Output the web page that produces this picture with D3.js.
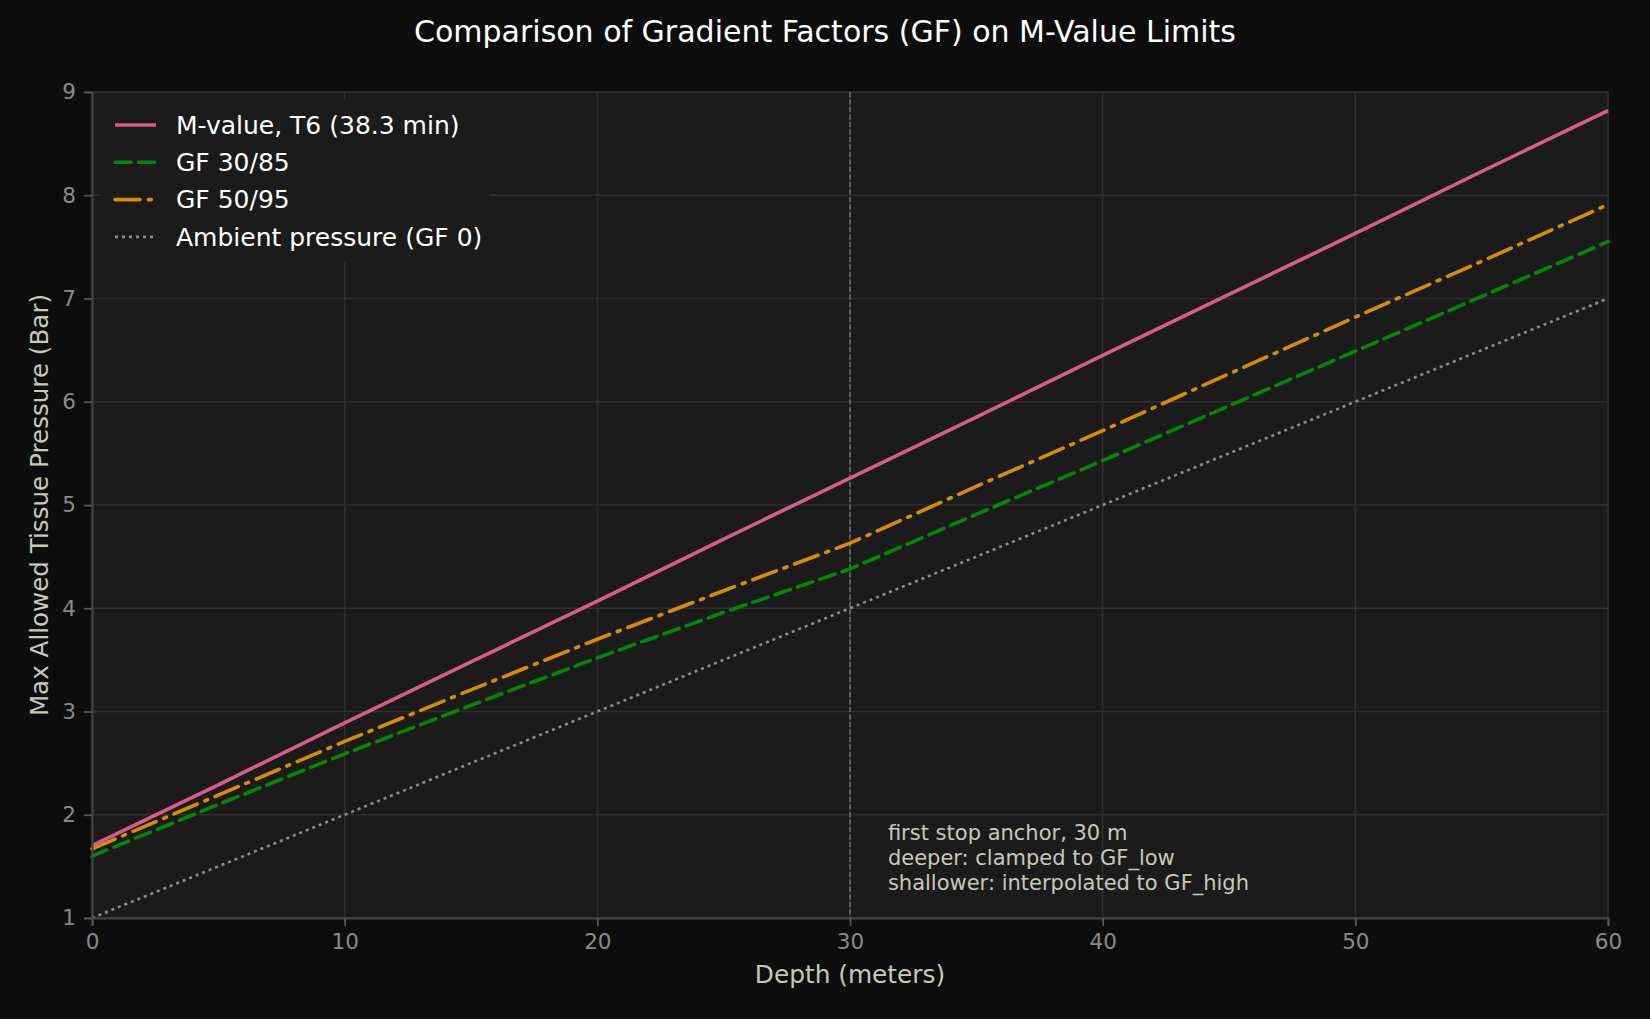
<!DOCTYPE html>
<html>
<head>
<meta charset="utf-8">
<script src="https://cdn.jsdelivr.net/npm/d3@7"></script>
<style>
  body { margin: 0; background: #0d0d0d; }
  svg { display: block; font-family: "DejaVu Sans", sans-serif; }
</style>
</head>
<body>
<div id="chart"></div>
<script>
const FRAME_WIDTH = 1650;
const FRAME_HEIGHT = 1019;
const MARGINS = {left: 92, right: 42, top: 92, bottom: 101};

// values
const depths   = [0, 5, 10, 15, 20, 25, 30, 35, 40, 45, 50, 55, 60];
const mValue   = [1.70, 2.29, 2.89, 3.48, 4.07, 4.67, 5.26, 5.85, 6.45, 7.04, 7.63, 8.23, 8.82];
const gf3085   = [1.60, 2.10, 2.59, 3.06, 3.52, 3.96, 4.38, 4.91, 5.43, 5.96, 6.49, 7.02, 7.55];
const gf5095   = [1.67, 2.19, 2.71, 3.21, 3.70, 4.17, 4.63, 5.18, 5.72, 6.27, 6.82, 7.36, 7.91];
const ambient  = [1.0, 1.5, 2.0, 2.5, 3.0, 3.5, 4.0, 4.5, 5.0, 5.5, 6.0, 6.5, 7.0];

const xTicks = [0, 10, 20, 30, 40, 50, 60];
const yTicks = [1, 2, 3, 4, 5, 6, 7, 8, 9];
const anchorDepth = 30;
const noteLines = ["first stop anchor, 30 m", "deeper: clamped to GF_low", "shallower: interpolated to GF_high"];

const series = [
  {name: "M-value, T6 (38.3 min)", values: mValue, color: "#d95a8c", width: 3.6, dash: null, cap: "butt"},
  {name: "GF 30/85", values: gf3085, color: "#008a00", width: 3.6, dash: "16 7.6", cap: "round"},
  {name: "GF 50/95", values: gf5095, color: "#d98c00", width: 3.6, dash: "25 8.3 3 8.3", cap: "round"},
  {name: "Ambient pressure (GF 0)", values: ambient, color: "#8c8c8c", width: 2.6, dash: "3 4", cap: "butt"}
];

const VIS_WIDTH = FRAME_WIDTH - MARGINS.left - MARGINS.right;
const VIS_HEIGHT = FRAME_HEIGHT - MARGINS.top - MARGINS.bottom;

const svg = d3.select("#chart")
  .append("svg")
  .attr("width", FRAME_WIDTH)
  .attr("height", FRAME_HEIGHT);

svg.append("rect")
  .attr("width", FRAME_WIDTH)
  .attr("height", FRAME_HEIGHT)
  .attr("fill", "#0d0d0d");

const X_SCALE = d3.scaleLinear().domain([0, 60]).range([MARGINS.left, MARGINS.left + VIS_WIDTH]);
const Y_SCALE = d3.scaleLinear().domain([1, 9]).range([MARGINS.top + VIS_HEIGHT, MARGINS.top]);

// axes background
svg.append("rect")
  .attr("x", MARGINS.left)
  .attr("y", MARGINS.top)
  .attr("width", VIS_WIDTH)
  .attr("height", VIS_HEIGHT)
  .attr("fill", "#1b1b1b");

// grid
svg.append("g")
  .selectAll("line")
  .data(xTicks)
  .enter()
  .append("line")
  .attr("x1", d => X_SCALE(d))
  .attr("x2", d => X_SCALE(d))
  .attr("y1", MARGINS.top)
  .attr("y2", MARGINS.top + VIS_HEIGHT)
  .attr("stroke", "#2e2e2e")
  .attr("stroke-width", 1.6);

svg.append("g")
  .selectAll("line")
  .data(yTicks)
  .enter()
  .append("line")
  .attr("x1", MARGINS.left)
  .attr("x2", MARGINS.left + VIS_WIDTH)
  .attr("y1", d => Y_SCALE(d))
  .attr("y2", d => Y_SCALE(d))
  .attr("stroke", "#2e2e2e")
  .attr("stroke-width", 1.6);

// top / right spines (faint)
svg.append("path")
  .attr("d", `M${MARGINS.left},${MARGINS.top}H${MARGINS.left + VIS_WIDTH}V${MARGINS.top + VIS_HEIGHT}`)
  .attr("fill", "none")
  .attr("stroke", "#2a2a2a")
  .attr("stroke-width", 1.6);

// anchor line at 30 m
svg.append("line")
  .attr("x1", X_SCALE(anchorDepth))
  .attr("x2", X_SCALE(anchorDepth))
  .attr("y1", MARGINS.top)
  .attr("y2", MARGINS.top + VIS_HEIGHT)
  .attr("stroke", "#7a7a7a")
  .attr("stroke-width", 1.3)
  .attr("stroke-dasharray", "5 2.5");

// series lines
const line = d3.line()
  .x((d, i) => X_SCALE(depths[i]))
  .y(d => Y_SCALE(d));

const plotOrder = [3, 1, 2, 0];
plotOrder.forEach(k => {
  const s = series[k];
  svg.append("path")
    .datum(s.values)
    .attr("d", line)
    .attr("fill", "none")
    .attr("stroke", s.color)
    .attr("stroke-width", s.width)
    .attr("stroke-linecap", s.cap)
    .attr("stroke-dasharray", s.dash);
});

// annotation
const note = svg.append("text")
  .attr("x", X_SCALE(31.5))
  .attr("y", 840)
  .attr("fill", "#c8c8bc")
  .attr("font-size", 21);
note.selectAll("tspan")
  .data(noteLines)
  .enter()
  .append("tspan")
  .attr("x", X_SCALE(31.5))
  .attr("dy", (d, i) => i === 0 ? 0 : 25)
  .text(d => d);

// axes
const xAxis = svg.append("g")
  .attr("transform", `translate(0,${MARGINS.top + VIS_HEIGHT})`)
  .call(d3.axisBottom(X_SCALE).tickValues(xTicks).tickSize(8).tickPadding(8).tickFormat(d3.format("d")));
const yAxis = svg.append("g")
  .attr("transform", `translate(${MARGINS.left},0)`)
  .call(d3.axisLeft(Y_SCALE).tickValues(yTicks).tickSize(8).tickPadding(8).tickFormat(d3.format("d")));

[xAxis, yAxis].forEach(a => {
  a.select(".domain").attr("stroke", "#454545").attr("stroke-width", 2);
  a.selectAll(".tick line").attr("stroke", "#555555").attr("stroke-width", 1.8);
  a.selectAll(".tick text")
    .attr("fill", "#8a8a8a")
    .attr("font-size", 21.5)
    .attr("font-family", "DejaVu Sans");
});

// axis titles
svg.append("text")
  .attr("x", MARGINS.left + VIS_WIDTH / 2)
  .attr("y", 983)
  .attr("text-anchor", "middle")
  .attr("fill", "#c8c8bc")
  .attr("font-size", 24.8)
  .text("Depth (meters)");

svg.append("text")
  .attr("transform", `translate(48,${MARGINS.top + VIS_HEIGHT / 2}) rotate(-90)`)
  .attr("text-anchor", "middle")
  .attr("fill", "#c8c8bc")
  .attr("font-size", 24.6)
  .text("Max Allowed Tissue Pressure (Bar)");

svg.append("text")
  .attr("x", FRAME_WIDTH / 2)
  .attr("y", 42)
  .attr("text-anchor", "middle")
  .attr("fill", "#ffffff")
  .attr("font-size", 30)
  .text("Comparison of Gradient Factors (GF) on M-Value Limits");

// legend
const legend = svg.append("g");
legend.append("rect")
  .attr("x", 100)
  .attr("y", 100)
  .attr("width", 390)
  .attr("height", 162)
  .attr("rx", 4)
  .attr("fill", "#1b1b1b")
  .attr("fill-opacity", 0.95);

const rows = legend.selectAll("g.row")
  .data(series)
  .enter()
  .append("g")
  .attr("class", "row")
  .attr("transform", (d, i) => `translate(0,${125 + i * 37.3})`);

rows.append("line")
  .attr("x1", 115)
  .attr("x2", 156)
  .attr("stroke", d => d.color)
  .attr("stroke-width", d => d.width)
  .attr("stroke-linecap", d => d.cap)
  .attr("stroke-dasharray", d => d.dash);

rows.append("text")
  .attr("x", 176)
  .attr("dy", "0.35em")
  .attr("fill", "#ffffff")
  .attr("font-size", 25)
  .text(d => d.name);
</script>
</body>
</html>
